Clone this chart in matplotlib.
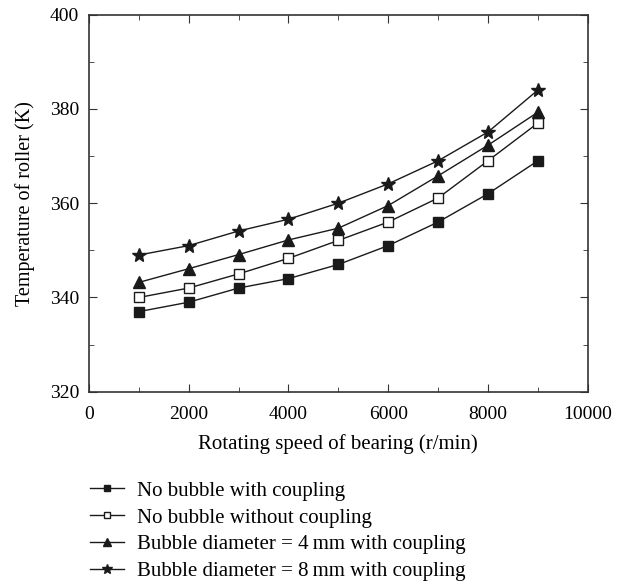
import numpy as np
import matplotlib.pyplot as plt
from matplotlib.ticker import MultipleLocator

plt.rcParams['font.family'] = ['Liberation Serif', 'DejaVu Serif']

# ── DATOS ─────────────────────────────────────────────────────────────────────
speed = [1000, 2000, 3000, 4000, 5000, 6000, 7000, 8000, 9000]

no_bubble_coupling    = [337.0, 339.0, 342.0, 344.0, 347.0, 351.0, 356.0, 362.0, 369.0]
no_bubble_no_coupling = [340.0, 342.0, 345.0, 348.3, 352.1, 356.0, 361.1, 369.0, 377.0]
bubble_4mm            = [343.2, 346.1, 349.1, 352.2, 354.7, 359.5, 365.8, 372.3, 379.3]
bubble_8mm            = [349.0, 351.0, 354.1, 356.6, 360.0, 364.1, 369.0, 375.1, 384.0]

labels = ["No bubble with coupling",
          "No bubble without coupling",
          "Bubble diameter = 4\u2009mm with coupling",
          "Bubble diameter = 8\u2009mm with coupling"]

# ── FIGURA ────────────────────────────────────────────────────────────────────
fig = plt.figure(figsize=(6.22, 5.83), dpi=100)
ax = fig.add_axes([0.143, 0.328, 0.802, 0.647])

estilo = dict(color="#1a1a1a", linewidth=1.0)
ax.plot(speed, no_bubble_coupling, marker="s", markersize=6.5,
        markerfacecolor="#1a1a1a", markeredgecolor="#1a1a1a", label=labels[0], **estilo)
ax.plot(speed, no_bubble_no_coupling, marker="s", markersize=6.5,
        markerfacecolor="white", markeredgecolor="#1a1a1a", label=labels[1], **estilo)
ax.plot(speed, bubble_4mm, marker="^", markersize=8.5,
        markerfacecolor="#1a1a1a", markeredgecolor="#1a1a1a", label=labels[2], **estilo)
ax.plot(speed, bubble_8mm, marker="*", markersize=10.5,
        markerfacecolor="#1a1a1a", markeredgecolor="#1a1a1a", label=labels[3], **estilo)

ax.set_xlim(0, 10000)
ax.set_ylim(320, 400)
ax.xaxis.set_major_locator(MultipleLocator(2000))
ax.xaxis.set_minor_locator(MultipleLocator(1000))
ax.yaxis.set_major_locator(MultipleLocator(20))
ax.yaxis.set_minor_locator(MultipleLocator(10))
ax.tick_params(which="both", direction="in", top=True, right=True,
               labelsize=14, color="#333333")
ax.tick_params(which="major", length=6)
ax.tick_params(which="minor", length=3.5)
ax.tick_params(axis="x", which="both", pad=10)
ax.tick_params(axis="y", which="both", pad=7)
for s in ax.spines.values():
    s.set_linewidth(1.2)
    s.set_color("#333333")

ax.set_xlabel("Rotating speed of bearing (r/min)", fontsize=15, labelpad=8)
ax.set_ylabel("Temperature of roller (K)", fontsize=14.5, labelpad=11)

fig.legend(loc="upper left", bbox_to_anchor=(0.131, 0.189), frameon=False,
           fontsize=15, handlelength=1.65, handletextpad=0.63,
           labelspacing=0.35, borderaxespad=0, markerscale=0.75)

plt.savefig("out.png", dpi=100)
